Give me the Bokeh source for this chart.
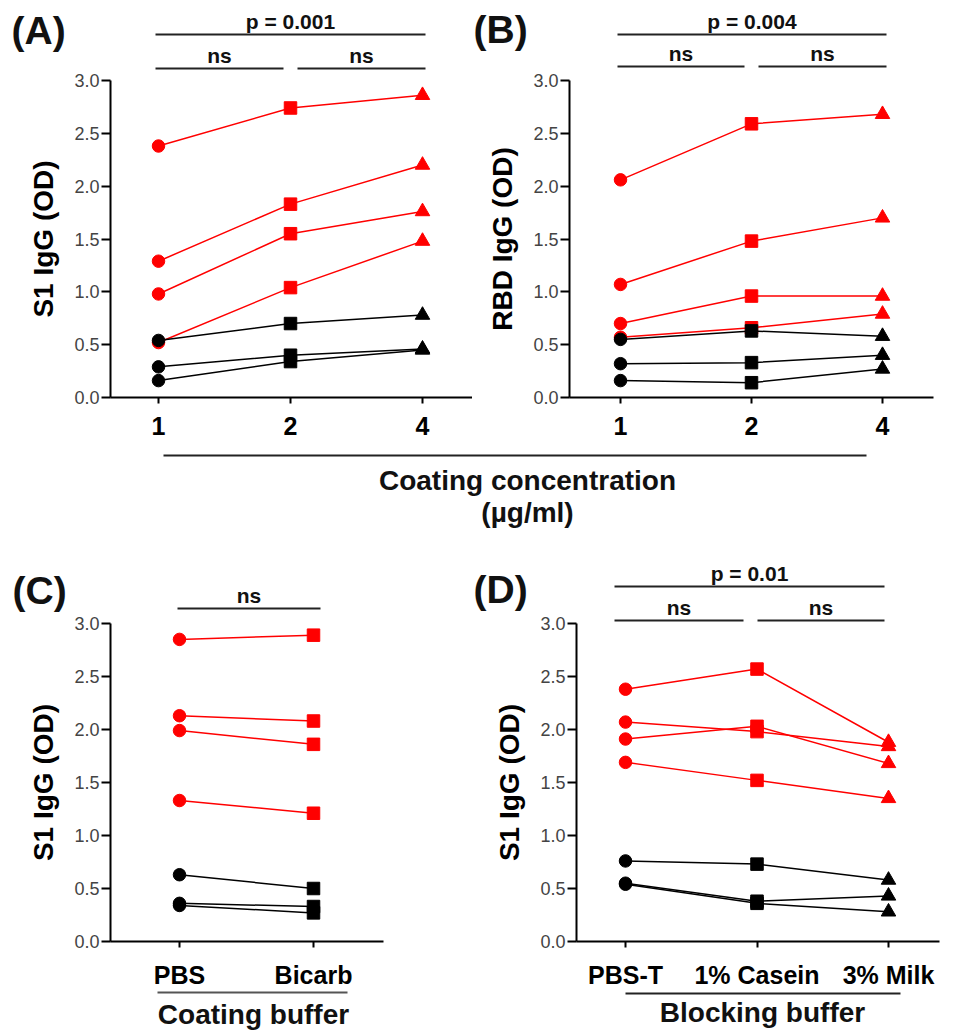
from bokeh.plotting import figure
from bokeh.layouts import column, row
from bokeh.models import Range1d, FixedTicker, NumeralTickFormatter
from bokeh.embed import file_html
from bokeh.resources import INLINE
from bokeh.core.properties import value

FONT = "Liberation Sans"
RED = "#ff0000"
BLACK = "#000000"

# ---------------- data ----------------
conc_labels = ["1", "2", "4"]
coat_labels = ["PBS", "Bicarb"]
block_labels = ["PBS-T", "1% Casein", "3% Milk"]
y_ticks = [0.0, 0.5, 1.0, 1.5, 2.0, 2.5, 3.0]
markers3 = ["circle", "square", "triangle"]
markers2 = ["circle", "square"]

A_red = [[2.38, 2.74, 2.86], [1.29, 1.83, 2.20], [0.98, 1.55, 1.76], [0.52, 1.04, 1.48]]
A_black = [[0.54, 0.70, 0.78], [0.29, 0.40, 0.46], [0.16, 0.34, 0.45]]
B_red = [[2.06, 2.59, 2.68], [1.07, 1.48, 1.70], [0.70, 0.96, 0.96], [0.57, 0.66, 0.79]]
B_black = [[0.55, 0.63, 0.58], [0.32, 0.33, 0.40], [0.16, 0.14, 0.27]]
C_red = [[2.85, 2.89], [2.13, 2.08], [1.99, 1.86], [1.33, 1.21]]
C_black = [[0.63, 0.50], [0.36, 0.33], [0.34, 0.27]]
D_red = [[2.38, 2.57, 1.88], [2.07, 1.98, 1.84], [1.91, 2.03, 1.68], [1.69, 1.52, 1.35]]
D_black = [[0.76, 0.73, 0.58], [0.55, 0.38, 0.43], [0.54, 0.36, 0.28]]

A_sig_text = ["p = 0.001", "ns", "ns"]
B_sig_text = ["p = 0.004", "ns", "ns"]
C_sig_text = ["ns"]
D_sig_text = ["p = 0.01", "ns", "ns"]

# ---------------- layout (page pixels) ----------------
SPECS = {
    "A": dict(fig_x=(0, 472), fig_y=(0, 448), axis_x=(110, 473), y0=397, y3=80, cat0=158, dx=132,
              bars=[(155, 425, 34), (155, 283, 68), (297, 425, 68)], letter=(11, 29.5),
              caption=None),
    "B": dict(fig_x=(472, 954), fig_y=(0, 448), axis_x=(569, 933), y0=397, y3=80, cat0=620, dx=131,
              bars=[(617, 886, 34), (617, 744, 66), (758, 886, 66)], letter=(473, 28.5),
              caption=None),
    "C": dict(fig_x=(0, 472), fig_y=(540, 1034), axis_x=(110, 383), y0=941, y3=623, cat0=179, dx=134,
              bars=[(177, 320, 608)], letter=(12, 590),
              caption=(157, 347, 992, "#555555", 253, 1014)),
    "D": dict(fig_x=(472, 954), fig_y=(540, 1034), axis_x=(576, 939), y0=941, y3=623, cat0=625, dx=131.5,
              bars=[(614, 884, 586), (614, 743, 620), (757, 884, 620)], letter=(473, 589),
              caption=(625, 900, 993, "#222222", 762, 1012)),
}


def build(key, ylabel, xlabels, markers, reds, blacks, sig_texts, tick_font, caption_text=None):
    s = SPECS[key]
    k = (s["y0"] - s["y3"]) / 3.0
    X = lambda px: (px - s["cat0"]) / s["dx"]
    Y = lambda py: (s["y0"] - py) / k

    p = figure(width=s["fig_x"][1] - s["fig_x"][0], height=s["fig_y"][1] - s["fig_y"][0],
               x_range=Range1d(X(s["fig_x"][0]), X(s["fig_x"][1])),
               y_range=Range1d(Y(s["fig_y"][1]), Y(s["fig_y"][0])),
               min_border_left=0, min_border_right=0, min_border_top=0, min_border_bottom=0,
               output_backend="svg", toolbar_location=None)
    p.grid.visible = False
    p.outline_line_color = None
    p.background_fill_color = "white"
    p.border_fill_color = "white"

    ya = p.yaxis[0]
    ya.fixed_location = X(s["axis_x"][0])
    ya.bounds = (0, 3)
    ya.ticker = FixedTicker(ticks=y_ticks)
    ya.formatter = NumeralTickFormatter(format="0.0")
    ya.axis_line_width = 2
    ya.axis_line_color = BLACK
    ya.major_tick_line_width = 2
    ya.major_tick_out = 9
    ya.major_tick_in = 0
    ya.minor_tick_line_color = None
    ya.major_label_standoff = 2
    ya.major_label_text_font = FONT
    ya.major_label_text_font_size = "18px"
    ya.major_label_text_color = "#444444"
    ya.axis_label = ylabel
    ya.axis_label_text_font = FONT
    ya.axis_label_text_font_style = "bold"
    ya.axis_label_text_font_size = "28px"
    ya.axis_label_text_color = BLACK
    ya.axis_label_standoff = 12

    xa = p.xaxis[0]
    xa.fixed_location = 0
    xa.bounds = (X(s["axis_x"][0]), X(s["axis_x"][1]))
    xa.ticker = FixedTicker(ticks=list(range(len(xlabels))))
    xa.major_label_overrides = {i: lab for i, lab in enumerate(xlabels)}
    xa.axis_line_width = 2
    xa.axis_line_color = BLACK
    xa.major_tick_line_width = 2
    xa.major_tick_out = 6
    xa.major_tick_in = 0
    xa.minor_tick_line_color = None
    xa.major_label_standoff = 13
    xa.major_label_text_font = FONT
    xa.major_label_text_font_style = "bold"
    xa.major_label_text_font_size = tick_font
    xa.major_label_text_color = BLACK

    xs = list(range(len(xlabels)))
    sizes = [12.5 if m != "triangle" else 14.5 for m in markers]
    for series, col in ((reds, RED), (blacks, BLACK)):
        for ys in series:
            p.line(xs, ys, line_color=col, line_width=1.5)
            p.scatter(xs, ys, marker=markers, size=sizes, fill_color=col, line_color=col)

    def txt(px, py, t, size, align="center", color="#111111"):
        p.text(x=[X(px)], y=[Y(py)], text=[t], text_align=align, text_baseline="middle",
               text_font=value(FONT), text_font_style="bold", text_font_size=size, text_color=color)

    for (bx0, bx1, by), t in zip(s["bars"], sig_texts):
        p.segment(x0=[X(bx0)], y0=[Y(by)], x1=[X(bx1)], y1=[Y(by)], line_color="#222222", line_width=2)
        txt((bx0 + bx1) / 2, by - 13.5, t, "21px")

    lx, ly = s["letter"]
    txt(lx, ly, "(%s)" % key, "39px", align="left")

    if s["caption"] is not None and caption_text is not None:
        cx0, cx1, cy, ccol, tx, ty = s["caption"]
        p.segment(x0=[X(cx0)], y0=[Y(cy)], x1=[X(cx1)], y1=[Y(cy)], line_color=ccol, line_width=2)
        txt(tx, ty, caption_text, "28px")
    return p


pA = build("A", "S1 IgG (OD)", conc_labels, markers3, A_red, A_black, A_sig_text, "25px")
pB = build("B", "RBD IgG (OD)", conc_labels, markers3, B_red, B_black, B_sig_text, "25px")
pC = build("C", "S1 IgG (OD)", coat_labels, markers2, C_red, C_black, C_sig_text, "25px", "Coating buffer")
pD = build("D", "S1 IgG (OD)", block_labels, markers3, D_red, D_black, D_sig_text, "25px", "Blocking buffer")

# shared caption strip below panels A and B
s1 = figure(width=954, height=92, x_range=Range1d(0, 954), y_range=Range1d(540, 448),
            x_axis_type=None, y_axis_type=None, output_backend="svg", toolbar_location=None,
            min_border_left=0, min_border_right=0, min_border_top=0, min_border_bottom=0)
s1.grid.visible = False
s1.outline_line_color = None
s1.segment(x0=[163], y0=[455], x1=[866], y1=[455], line_color="#222222", line_width=2)
s1.text(x=[527, 527], y=[479.5, 512], text=["Coating concentration", "(\u00b5g/ml)"],
        text_align="center", text_baseline="middle", text_font=value(FONT), text_font_style="bold",
        text_font_size="28px", text_color="#111111")

layout = column(row(pA, pB), s1, row(pC, pD))
open("out.html", "w").write(file_html(layout, INLINE))
